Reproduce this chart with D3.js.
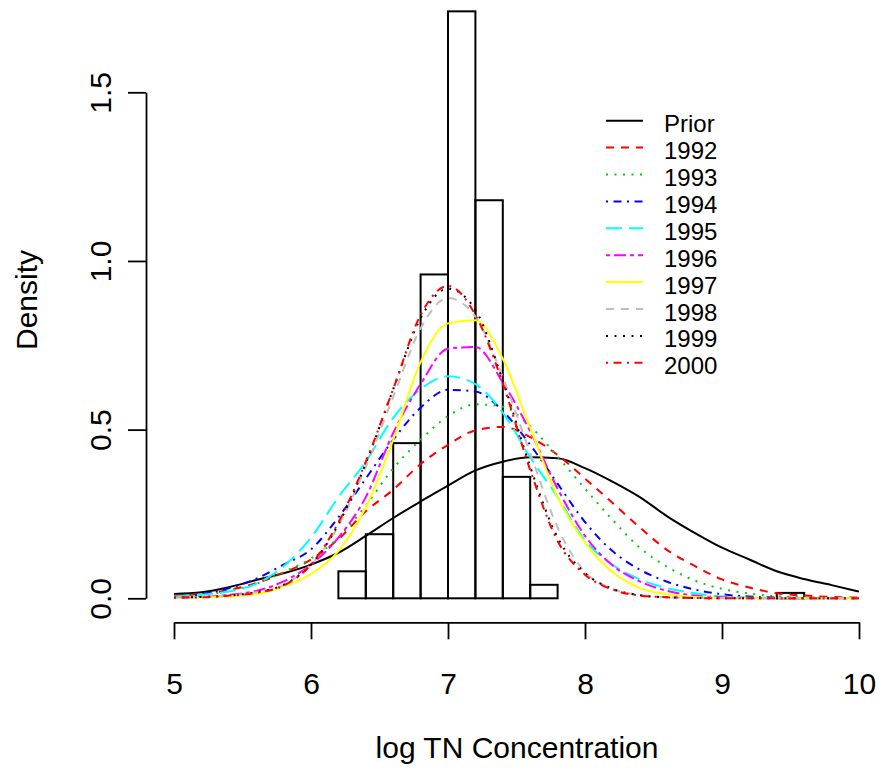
<!DOCTYPE html>
<html>
<head>
<meta charset="utf-8">
<script src="https://cdn.jsdelivr.net/npm/d3@7"></script>
<style>
  body { margin: 0; background: #fff; }
  svg { display: block; font-family: "Liberation Sans", Arial, sans-serif; }
</style>
</head>
<body>
<div id="chart"></div>
<script>
// histogram (density scale), bins of width 0.2
var histBreaks = [6.2, 6.4, 6.6, 6.8, 7.0, 7.2, 7.4, 7.6, 7.8, 8.0, 8.2, 8.4, 8.6, 8.8, 9.0, 9.2, 9.4, 9.6];
var histDensity = [0.08, 0.19, 0.46, 0.96, 1.74, 1.18, 0.36, 0.04, 0, 0, 0, 0, 0, 0, 0, 0, 0.016];

var xGrid = [5.0, 5.2, 5.4, 5.6, 5.8, 6.0, 6.2, 6.4, 6.6, 6.8, 7.0, 7.2, 7.4,
             7.6, 7.8, 8.0, 8.2, 8.4, 8.6, 8.8, 9.0, 9.2, 9.4, 9.6, 9.8, 10.0];

var seriesNames = ["Prior", "1992", "1993", "1994", "1995", "1996", "1997", "1998", "1999", "2000"];

var prior = [0.013, 0.018, 0.033, 0.054, 0.074, 0.10, 0.135, 0.185, 0.238, 0.287, 0.334, 0.379, 0.405,
             0.418, 0.415, 0.386, 0.346, 0.30, 0.243, 0.194, 0.15, 0.115, 0.08, 0.057, 0.039, 0.02];
var y1992 = [0.008, 0.013, 0.025, 0.045, 0.076, 0.115, 0.175, 0.258, 0.322, 0.398, 0.455, 0.498, 0.508,
             0.478, 0.425, 0.355, 0.283, 0.21, 0.143, 0.096, 0.056, 0.032, 0.015, 0.008, 0.004, 0.002];
var y1993 = [0.006, 0.011, 0.022, 0.043, 0.078, 0.118, 0.18, 0.275, 0.385, 0.47, 0.54, 0.575, 0.568,
             0.51, 0.42, 0.325, 0.233, 0.15, 0.093, 0.053, 0.028, 0.014, 0.006, 0.003, 0.001, 0];
var y1994 = [0.005, 0.012, 0.03, 0.058, 0.1, 0.145, 0.24, 0.355, 0.47, 0.565, 0.618, 0.613, 0.555,
             0.455, 0.34, 0.226, 0.14, 0.085, 0.049, 0.026, 0.012, 0.005, 0.002, 0.001, 0, 0];
var y1995 = [0.005, 0.01, 0.02, 0.043, 0.095, 0.18, 0.30, 0.405, 0.535, 0.62, 0.658, 0.635, 0.55,
             0.418, 0.30, 0.172, 0.1, 0.056, 0.03, 0.015, 0.005, 0.002, 0.001, 0, 0, 0];
var y1996 = [0.002, 0.004, 0.01, 0.022, 0.05, 0.1, 0.18, 0.30, 0.49, 0.635, 0.74, 0.745, 0.64,
             0.495, 0.325, 0.185, 0.098, 0.05, 0.022, 0.008, 0.003, 0.001, 0, 0, 0, 0];
var y1997 = [0.001, 0.002, 0.005, 0.012, 0.035, 0.072, 0.14, 0.27, 0.47, 0.70, 0.815, 0.824, 0.71,
             0.505, 0.30, 0.165, 0.078, 0.03, 0.012, 0.004, 0.001, 0, 0, 0, 0, 0];
var y1998 = [0.002, 0.004, 0.008, 0.018, 0.04, 0.1, 0.215, 0.39, 0.597, 0.80, 0.89, 0.835, 0.655,
             0.43, 0.21, 0.078, 0.028, 0.01, 0.003, 0.001, 0, 0, 0, 0, 0, 0];
var y1999 = [0.002, 0.004, 0.008, 0.018, 0.04, 0.1, 0.22, 0.40, 0.62, 0.83, 0.918, 0.855, 0.645,
             0.39, 0.18, 0.075, 0.028, 0.009, 0.003, 0.001, 0, 0, 0, 0, 0, 0];
var y2000 = [0.002, 0.003, 0.008, 0.016, 0.038, 0.1, 0.225, 0.405, 0.62, 0.84, 0.926, 0.84, 0.637,
             0.38, 0.17, 0.07, 0.026, 0.008, 0.003, 0.001, 0, 0, 0, 0, 0, 0];

var xTicks = [5, 6, 7, 8, 9, 10];
var yTicks = [0, 0.5, 1.0, 1.5];

var width = 883, height = 778;

// R line types: solid, dashed, dotted, dotdash, longdash, twodash
var styles = [
  {color: "#000000", dash: null},
  {color: "#ff0000", dash: "8,7"},
  {color: "#00cd00", dash: "2,6.5"},
  {color: "#0000ff", dash: "2,5.5,8,5.5"},
  {color: "#00ffff", dash: "16,7"},
  {color: "#ff00ff", dash: "4,4,12,4"},
  {color: "#ffff00", dash: null},
  {color: "#bebebe", dash: "8,7"},
  {color: "#000000", dash: "2,6.5"},
  {color: "#ff0000", dash: "2,5.5,8,5.5"}
];

var seriesValues = [prior, y1992, y1993, y1994, y1995, y1996, y1997, y1998, y1999, y2000];

var svg = d3.select("#chart").append("svg")
  .attr("width", width)
  .attr("height", height);

var x = d3.scaleLinear().domain([5, 10]).range([174, 859]);
var y = d3.scaleLinear().domain([0, 1.5]).range([598.3, 92.3]);

// histogram bars
var bins = histDensity.map((d, i) => ({x0: histBreaks[i], x1: histBreaks[i + 1], density: d}));

svg.append("g").selectAll("rect")
  .data(bins)
  .enter().append("rect")
    .attr("x", d => x(d.x0))
    .attr("y", d => y(d.density))
    .attr("width", d => x(d.x1) - x(d.x0))
    .attr("height", d => Math.max(0, y(0) - y(d.density)))
    .attr("fill", "none")
    .attr("stroke", "#000")
    .attr("stroke-width", 2);

// density lines
var line = d3.line()
  .x((d, i) => x(xGrid[i]))
  .y(d => y(d))
  .curve(d3.curveMonotoneX);

svg.append("g").selectAll("path")
  .data(seriesValues)
  .enter().append("path")
    .attr("d", d => line(d))
    .attr("fill", "none")
    .attr("stroke", (d, i) => styles[i].color)
    .attr("stroke-width", 2)
    .attr("stroke-dasharray", (d, i) => styles[i].dash);

// axes
var xAxis = svg.append("g")
  .attr("transform", "translate(0,622.3)")
  .call(d3.axisBottom(x).tickValues(xTicks).tickFormat(d3.format("d")).tickSize(17).tickSizeOuter(0));

var yAxis = svg.append("g")
  .attr("transform", "translate(146,0)")
  .call(d3.axisLeft(y).tickValues(yTicks).tickFormat(d3.format(".1f")).tickSize(18).tickSizeOuter(0));

[xAxis, yAxis].forEach(a => {
  a.select(".domain").attr("stroke-width", 1.8);
  a.selectAll(".tick line").attr("stroke-width", 1.8);
  a.selectAll("text")
    .attr("font-family", "'Liberation Sans', Arial, sans-serif")
    .attr("font-size", 30)
    .attr("fill", "#000");
});

xAxis.selectAll("text")
  .attr("y", 71.4)
  .attr("dy", null);

yAxis.selectAll("text")
  .attr("x", null)
  .attr("dy", null)
  .attr("text-anchor", "middle")
  .attr("transform", "translate(-35,0) rotate(-90)");

// axis titles
svg.append("text")
  .attr("x", 517)
  .attr("y", 758)
  .attr("text-anchor", "middle")
  .attr("font-size", 30)
  .text("log TN Concentration");

svg.append("text")
  .attr("transform", "translate(37,300) rotate(-90)")
  .attr("text-anchor", "middle")
  .attr("font-size", 30)
  .text("Density");

// legend
var legend = svg.append("g").attr("transform", "translate(606,120.7)");
var rowH = 26.9;

var rows = legend.selectAll("g")
  .data(seriesNames)
  .enter().append("g")
    .attr("transform", (d, i) => `translate(0,${i * rowH})`);

rows.append("line")
  .attr("x1", 0).attr("x2", 37)
  .attr("y1", 0).attr("y2", 0)
  .attr("stroke", (d, i) => styles[i].color)
  .attr("stroke-width", 2)
  .attr("stroke-dasharray", (d, i) => styles[i].dash);

rows.append("text")
  .attr("x", 58)
  .attr("y", 11.5)
  .attr("font-size", 24)
  .text(d => d);
</script>
</body>
</html>
